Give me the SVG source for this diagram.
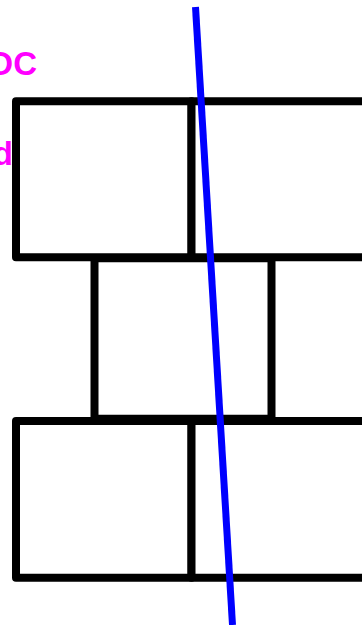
<svg xmlns="http://www.w3.org/2000/svg" width="362" height="625" viewBox="0 0 362 625">
<style>
.box{fill:#fff;stroke:#000;stroke-width:8;stroke-linejoin:round}
.lbl{fill:#ff00ff;font-family:"Liberation Sans",Arial,sans-serif;font-weight:bold;font-size:33px;text-anchor:end}
.cut{stroke:#0000ff;stroke-width:7;fill:none}
</style>
<rect width="362" height="625" fill="#fff"/>
<g id="top-left"><rect class="box" x="16" y="101.3" width="175.5" height="156"/></g>
<g id="top-right"><rect class="box" x="191.5" y="101.3" width="177" height="156"/></g>
<g id="middle"><rect class="box" x="94.5" y="258.3" width="177" height="160.4"/></g>
<g id="bottom-left"><rect class="box" x="16" y="421" width="175.5" height="156.8"/></g>
<g id="bottom-right"><rect class="box" x="191.5" y="421" width="177" height="156.8"/></g>
<g id="labels">
<text class="lbl" x="37" y="75">DC</text>
<text class="lbl" x="13" y="165">d</text>
</g>
<g id="connectors"><line class="cut" x1="195.5" y1="7" x2="232.5" y2="625"/></g>
</svg>
